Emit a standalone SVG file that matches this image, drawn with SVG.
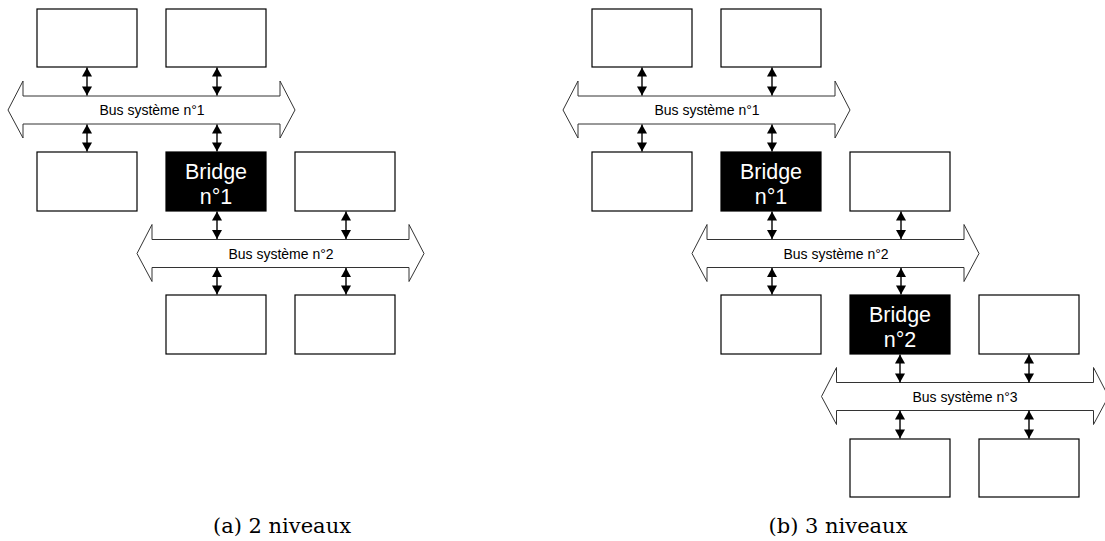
<svg xmlns="http://www.w3.org/2000/svg" width="1105" height="541" viewBox="0 0 1105 541">
<style>
.box{fill:#fff;stroke:#000;stroke-width:1.2}
.bridge{fill:#000;stroke:#000;stroke-width:1.2}
.bus{fill:#fff;stroke:#333;stroke-width:1}
.bt{font-family:"Liberation Sans",Arial,sans-serif;font-size:21.5px;fill:#fff;text-anchor:middle}
.bl{font-family:"Liberation Sans",Arial,sans-serif;font-size:14px;fill:#000;text-anchor:middle}
.cap{font-family:"DejaVu Serif",serif;font-size:21px;fill:#000;text-anchor:middle}
.c{stroke:#000;stroke-width:1.4;fill:none;marker-start:url(#ah);marker-end:url(#ah)}
</style>
<defs>
<marker id="ah" markerUnits="userSpaceOnUse" markerWidth="10" markerHeight="10" refX="9" refY="5" orient="auto-start-reverse" viewBox="0 0 9 10">
<path d="M0,0 L9,5 L0,10 Z" fill="#000"/>
</marker>
<path id="busShape" d="M0,0 L15,-29 L15,-14 L272,-14 L272,-29 L287,0 L272,28 L272,14 L15,14 L15,28 Z"/>
</defs>
<rect width="1105" height="541" fill="#fff"/>

<!-- Panel (a) -->
<g id="a-top1"><rect class="box" x="37" y="9" width="100" height="58"/></g>
<g id="a-top2"><rect class="box" x="166" y="9" width="100" height="58"/></g>
<g id="a-bus1"><use href="#busShape" class="bus" x="8" y="110"/><text class="bl" x="152" y="115">Bus système n°1</text></g>
<g id="a-mid1"><rect class="box" x="37" y="152" width="100" height="59"/></g>
<g id="a-bridge1"><rect class="bridge" x="166" y="152" width="100" height="59"/><text class="bt" x="216" y="179">Bridge</text><text class="bt" x="216" y="204">n°1</text></g>
<g id="a-mid3"><rect class="box" x="295" y="152" width="100" height="59"/></g>
<g id="a-bus2"><use href="#busShape" class="bus" x="137" y="253.5"/><text class="bl" x="281" y="258.5">Bus système n°2</text></g>
<g id="a-bot1"><rect class="box" x="166" y="295" width="100" height="59"/></g>
<g id="a-bot2"><rect class="box" x="295" y="295" width="100" height="59"/></g>
<g id="a-caption"><text class="cap" x="282" y="533">(a) 2 niveaux</text></g>

<!-- Panel (b) -->
<g id="b-top1"><rect class="box" x="592" y="9" width="100" height="58"/></g>
<g id="b-top2"><rect class="box" x="721" y="9" width="100" height="58"/></g>
<g id="b-bus1"><use href="#busShape" class="bus" x="563" y="110"/><text class="bl" x="707" y="115">Bus système n°1</text></g>
<g id="b-mid1"><rect class="box" x="592" y="152" width="100" height="59"/></g>
<g id="b-bridge1"><rect class="bridge" x="721" y="152" width="100" height="59"/><text class="bt" x="771" y="179">Bridge</text><text class="bt" x="771" y="204">n°1</text></g>
<g id="b-mid3"><rect class="box" x="850" y="152" width="100" height="59"/></g>
<g id="b-bus2"><use href="#busShape" class="bus" x="692" y="253.5"/><text class="bl" x="836" y="258.5">Bus système n°2</text></g>
<g id="b-l3-1"><rect class="box" x="721" y="295" width="100" height="59"/></g>
<g id="b-bridge2"><rect class="bridge" x="850" y="295" width="100" height="59"/><text class="bt" x="900" y="322">Bridge</text><text class="bt" x="900" y="347">n°2</text></g>
<g id="b-l3-3"><rect class="box" x="979" y="295" width="100" height="59"/></g>
<g id="b-bus3"><use href="#busShape" class="bus" x="821.5" y="396.5"/><text class="bl" x="965" y="401.5">Bus système n°3</text></g>
<g id="b-bot1"><rect class="box" x="850" y="439" width="100" height="58"/></g>
<g id="b-bot2"><rect class="box" x="979" y="439" width="100" height="58"/></g>
<g id="b-caption"><text class="cap" x="838" y="533">(b) 3 niveaux</text></g>

<g id="connectors">
<line class="c" x1="87" y1="67.5" x2="87" y2="95.5"/>
<line class="c" x1="217" y1="67.5" x2="217" y2="95.5"/>
<line class="c" x1="87" y1="124.5" x2="87" y2="151.5"/>
<line class="c" x1="217" y1="124.5" x2="217" y2="151.5"/>
<line class="c" x1="217" y1="211.5" x2="217" y2="239"/>
<line class="c" x1="346" y1="211.5" x2="346" y2="239"/>
<line class="c" x1="217" y1="268" x2="217" y2="294.5"/>
<line class="c" x1="346" y1="268" x2="346" y2="294.5"/>

<line class="c" x1="642" y1="67.5" x2="642" y2="95.5"/>
<line class="c" x1="772" y1="67.5" x2="772" y2="95.5"/>
<line class="c" x1="642" y1="124.5" x2="642" y2="151.5"/>
<line class="c" x1="772" y1="124.5" x2="772" y2="151.5"/>
<line class="c" x1="772" y1="211.5" x2="772" y2="239"/>
<line class="c" x1="901" y1="211.5" x2="901" y2="239"/>
<line class="c" x1="772" y1="268" x2="772" y2="294.5"/>
<line class="c" x1="901" y1="268" x2="901" y2="294.5"/>
<line class="c" x1="900" y1="354.5" x2="900" y2="382.5"/>
<line class="c" x1="1029" y1="354.5" x2="1029" y2="382.5"/>
<line class="c" x1="900" y1="410.5" x2="900" y2="438.5"/>
<line class="c" x1="1029" y1="410.5" x2="1029" y2="438.5"/>
</g>
</svg>
